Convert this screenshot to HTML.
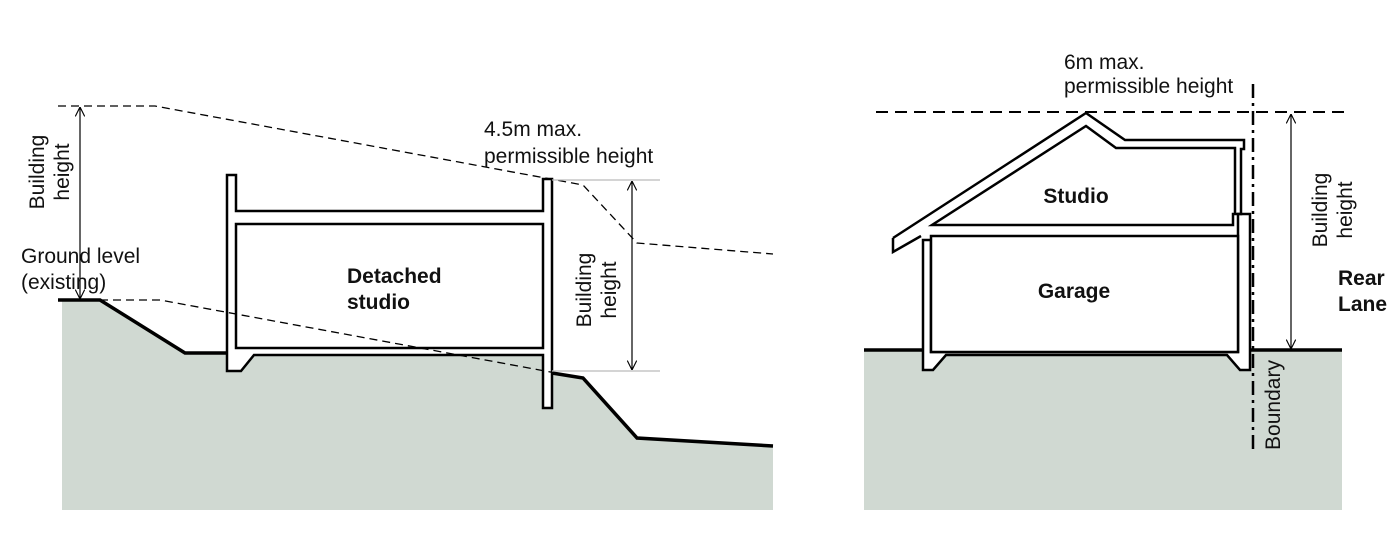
<!DOCTYPE html>
<html><head><meta charset="utf-8"><style>
html,body{margin:0;padding:0;background:#fff;}
svg{display:block;}
text{font-family:"Liberation Sans",Arial,sans-serif;fill:#111;}
</style></head><body>
<svg width="1397" height="554" viewBox="0 0 1397 554" xmlns="http://www.w3.org/2000/svg">
<defs>
<marker id="a" viewBox="0 0 10 10" refX="10" refY="5" markerWidth="8" markerHeight="8" orient="auto-start-reverse"><path d="M0,0 L10,5 L0,10" fill="none" stroke="#000" stroke-width="1.2"/></marker>
</defs>
<!-- LEFT -->
<polygon points="62,300 100,300 185,353 227,353 227,371 241,371 254,355 543,355 543,372 552,372 583,378 637,438 773,446 773,510 62,510" fill="#d0d9d2"/>
<polyline points="58,300 100,300 185,353 227,353" fill="none" stroke="#000" stroke-width="3.5"/>
<polyline points="552,373 583,378 637,438 773,446" fill="none" stroke="#000" stroke-width="3.5"/>
<path d="M227,175 H236 V211 H543 V179 H552 V408 H543 V355 H254 L241,371 H227 Z" fill="#fff" stroke="#000" stroke-width="2.5"/>
<rect x="236" y="224" width="307" height="124" fill="#fff" stroke="#000" stroke-width="2.5"/>
<polyline points="58,106 155,106 583,185 637,243 773,254" fill="none" stroke="#000" stroke-width="1.3" stroke-dasharray="8,5"/>
<polyline points="100,300 160,300 583,378" fill="none" stroke="#000" stroke-width="1.3" stroke-dasharray="8,5"/>
<line x1="552" y1="180" x2="660" y2="180" stroke="#bbb" stroke-width="1.2"/>
<line x1="552" y1="371" x2="660" y2="371" stroke="#bbb" stroke-width="1.2"/>
<line x1="80" y1="107" x2="80" y2="299" stroke="#000" stroke-width="1.2" marker-start="url(#a)" marker-end="url(#a)"/>
<line x1="632" y1="181" x2="632" y2="370" stroke="#000" stroke-width="1.2" marker-start="url(#a)" marker-end="url(#a)"/>
<text font-size="21" transform="translate(44,172) rotate(-90)" text-anchor="middle">Building</text>
<text font-size="21" transform="translate(69,172) rotate(-90)" text-anchor="middle">height</text>
<text font-size="21" transform="translate(591,290) rotate(-90)" text-anchor="middle">Building</text>
<text font-size="21" transform="translate(616,290) rotate(-90)" text-anchor="middle">height</text>
<text font-size="21" x="21" y="263">Ground level</text>
<text font-size="21" x="21" y="289">(existing)</text>
<text font-size="21" x="484" y="136">4.5m max.</text>
<text font-size="21" x="484" y="163">permissible height</text>
<text font-size="21" font-weight="bold" x="347" y="283">Detached</text>
<text font-size="21" font-weight="bold" x="347" y="309">studio</text>
<!-- RIGHT -->
<rect x="864" y="350" width="478" height="160" fill="#d0d9d2"/>
<line x1="864" y1="350" x2="1342" y2="350" stroke="#000" stroke-width="3.5"/>
<path d="M923,240 H931 V352 H1238 V214 H1250 V370 H1240 L1227,355 H946 L933,370 H923 Z" fill="#fff" stroke="#000" stroke-width="2.5"/>
<rect x="931" y="236" width="307" height="116" fill="#fff" stroke="#000" stroke-width="2.5"/>
<path d="M893,238 L1086,113 L1125,140 L1244,140 L1244,149 L1241,149 L1241,214 L1233,214 L1233,225 L932,225 L1086,126 L1116,148 L1235,148 L1235,214" fill="none" stroke="#000" stroke-width="2.5"/>
<path d="M893,238 L893,252 L921,236" fill="none" stroke="#000" stroke-width="2.5"/>
<line x1="876" y1="112" x2="1345" y2="112" stroke="#000" stroke-width="2" stroke-dasharray="12,7"/>
<line x1="1253" y1="84" x2="1253" y2="452" stroke="#000" stroke-width="2.5" stroke-dasharray="14,5,3,5"/>
<line x1="1291" y1="114" x2="1291" y2="349" stroke="#000" stroke-width="1.2" marker-start="url(#a)" marker-end="url(#a)"/>
<text font-size="21" x="1064" y="69">6m max.</text>
<text font-size="21" x="1064" y="93">permissible height</text>
<text font-size="21" font-weight="bold" x="1076" y="203" text-anchor="middle">Studio</text>
<text font-size="21" font-weight="bold" x="1074" y="298" text-anchor="middle">Garage</text>
<text font-size="21" transform="translate(1327,210) rotate(-90)" text-anchor="middle">Building</text>
<text font-size="21" transform="translate(1352,210) rotate(-90)" text-anchor="middle">height</text>
<text font-size="21" font-weight="bold" x="1338" y="285">Rear</text>
<text font-size="21" font-weight="bold" x="1338" y="311">Lane</text>
<text font-size="21" transform="translate(1280,405) rotate(-90)" text-anchor="middle">Boundary</text>
</svg>
</body></html>
